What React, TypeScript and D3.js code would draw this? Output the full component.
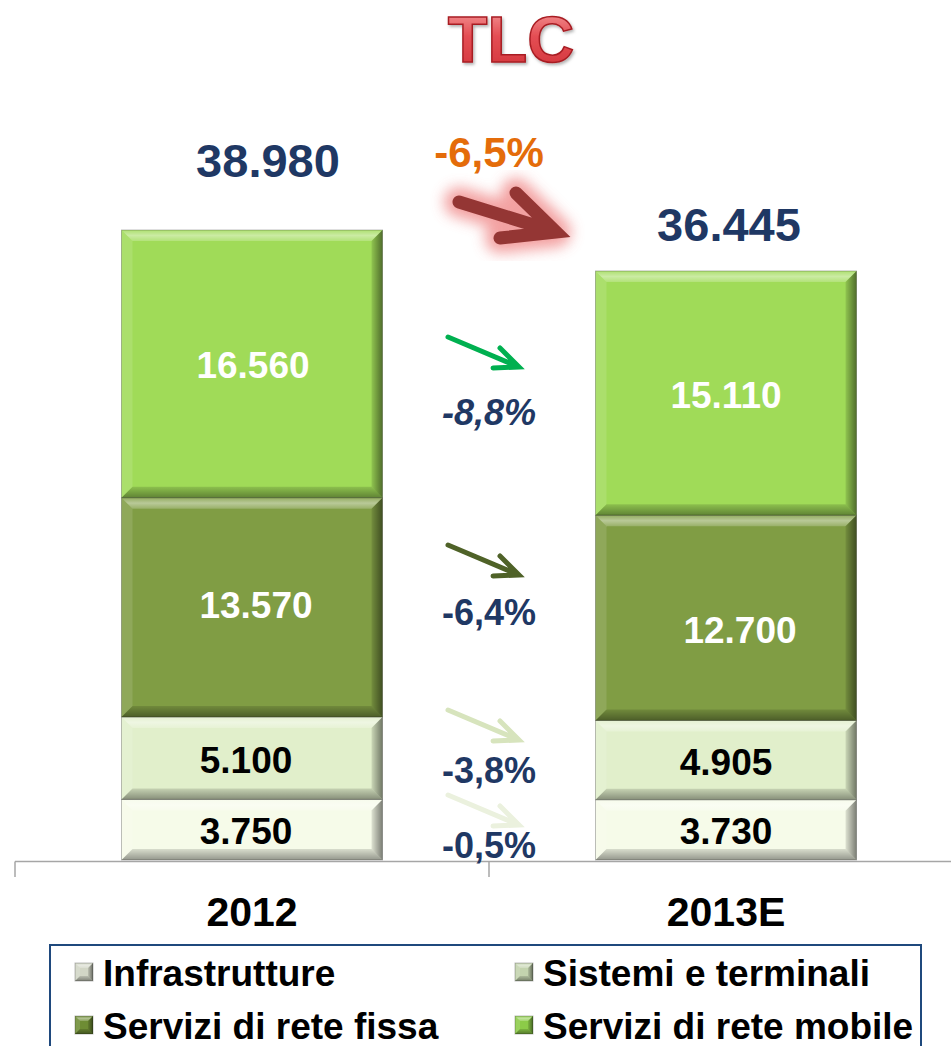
import React from "react";
import * as d3 from "d3";

// ---------- DATA ----------
const categories = ["2012", "2013E"];
const seriesKeys = ["infrastrutture", "sistemi", "fissa", "mobile"];
const seriesNames = ["Infrastrutture", "Sistemi e terminali", "Servizi di rete fissa", "Servizi di rete mobile"];
const infrastrutture = [3750, 3730];
const sistemi = [5100, 4905];
const fissa = [13570, 12700];
const mobile = [16560, 15110];
const totals = [38980, 36445];
const seriesChanges = ["-0,5%", "-3,8%", "-6,4%", "-8,8%"];
const totalChange = "-6,5%";
const title = "TLC";

// ---------- STYLE ----------
const W = 951;
const H = 1046;
const FONT = "'Liberation Sans', Arial, Helvetica, sans-serif";
const NAVY = "#1F3864";
const segColors = ["#F6FBE9", "#E1EFCB", "#809D44", "#A0DB58"];
const segText = ["#000", "#000", "#fff", "#fff"];
const legendColors = ["#D2D6C6", "#C3D3AE", "#6E8C34", "#8CCB48"];
const arrowColors = ["#EBF1DE", "#D7E4BD", "#4F6228", "#00B050"];
const arrowTailY = [795, 710, 545, 337];
const changeLabelY = [845, 770, 612, 412];
const changeItalic = [false, false, false, true];
const totalLabelDy = [70, 46];
const totalLabelDx = [16, 3];
// label nudges [series][category] as [dx, dy]
const labelNudge = [
  [[-6, 2], [0, 2]],
  [[-6, 2], [0, 2]],
  [[4, -2], [14, 13]],
  [[1, 2], [0, 2]],
];

const fmt = d3.formatLocale({ decimal: ",", thousands: ".", grouping: [3], currency: ["", ""] }).format(",d");

const rows = categories.map((c, i) => ({
  cat: c,
  infrastrutture: infrastrutture[i],
  sistemi: sistemi[i],
  fissa: fissa[i],
  mobile: mobile[i],
}));

const baseY = 860;
const y = d3.scaleLinear().domain([0, 40000]).range([baseY, baseY - (40000 * 630) / 38980]);
const x = d3.scaleBand().domain(categories).range([15, 963]).padding(0);
const barW = 261;
const stack = d3.stack<any>().keys(seriesKeys);
const stacked = stack(rows);

function Bevel({ x0, y0, x1, y1, color, b }: any) {
  const pts = (a: number[][]) => a.map((p) => p.join(",")).join(" ");
  return (
    <g>
      <rect x={x0} y={y0} width={x1 - x0} height={y1 - y0} fill={color} />
      <polygon points={pts([[x0, y0], [x1, y0], [x1 - b, y0 + b], [x0 + b, y0 + b]])} fill="url(#topBevel)" />
      <polygon points={pts([[x0, y0], [x0 + b, y0 + b], [x0 + b, y1 - b], [x0, y1]])} fill="#fff" opacity={0.12} />
      <polygon points={pts([[x1, y0], [x1 - b, y0 + b], [x1 - b, y1 - b], [x1, y1]])} fill="url(#rightBevel)" />
      <polygon points={pts([[x0, y1], [x1, y1], [x1 - b, y1 - b], [x0 + b, y1 - b]])} fill="url(#botBevel)" />
      <rect x={x0} y={y0} width={x1 - x0} height={y1 - y0} fill="none" stroke="#000" strokeOpacity={0.25} strokeWidth={1} />
    </g>
  );
}

function arrowPath(tx: number, ty: number, tip: number[], up: number[], lo: number[]) {
  const p = d3.path();
  p.moveTo(tx, ty);
  p.lineTo(tx + tip[0], ty + tip[1]);
  p.moveTo(tx + up[0], ty + up[1]);
  p.lineTo(tx + tip[0], ty + tip[1]);
  p.lineTo(tx + lo[0], ty + lo[1]);
  return p.toString();
}

export default function App() {
  const gapX = ((x(categories[0]) as number) + x.bandwidth() / 2 + barW / 2 + (x(categories[1]) as number) + x.bandwidth() / 2 - barW / 2) / 2;
  return (
    <svg width={W} height={H} style={{ position: "absolute", left: 0, top: 0, background: "#fff" }} fontFamily={FONT}>
      <defs>
        <linearGradient id="topBevel" x1="0" y1="0" x2="0" y2="1">
          <stop offset="0" stopColor="#fff" stopOpacity={0.15} />
          <stop offset="0.5" stopColor="#fff" stopOpacity={0.45} />
          <stop offset="1" stopColor="#fff" stopOpacity={0.2} />
        </linearGradient>
        <linearGradient id="rightBevel" x1="0" y1="0" x2="1" y2="0">
          <stop offset="0" stopColor="#000" stopOpacity={0.1} />
          <stop offset="1" stopColor="#000" stopOpacity={0.5} />
        </linearGradient>
        <linearGradient id="botBevel" x1="0" y1="0" x2="0" y2="1">
          <stop offset="0" stopColor="#000" stopOpacity={0.12} />
          <stop offset="1" stopColor="#000" stopOpacity={0.4} />
        </linearGradient>
        <linearGradient id="titleFill" x1="0" y1="0" x2="0" y2="1">
          <stop offset="0" stopColor="#F7A5A5" />
          <stop offset="0.45" stopColor="#E44E54" />
          <stop offset="1" stopColor="#D03238" />
        </linearGradient>
        <filter id="glow" x="-50%" y="-50%" width="200%" height="200%">
          <feGaussianBlur stdDeviation="7" />
        </filter>
        <filter id="shadow" x="-20%" y="-20%" width="140%" height="140%">
          <feDropShadow dx="1.5" dy="2" stdDeviation="1.5" floodColor="#000" floodOpacity="0.3" />
        </filter>
      </defs>

      {/* Title */}
      <text x={511} y={62} textAnchor="middle" fontSize={65} fontWeight="bold" fill="url(#titleFill)"
        stroke="#A81E24" strokeWidth={1.5} filter="url(#shadow)">{title}</text>

      {/* Bars */}
      {stacked.map((s, si) => (
        <g key={seriesKeys[si]}>
          {s.map((d, ci) => {
            const cx = (x(categories[ci]) as number) + x.bandwidth() / 2;
            const x0 = cx - barW / 2;
            const [ndx, ndy] = labelNudge[si][ci];
            return (
              <g key={ci}>
                <Bevel x0={x0} x1={x0 + barW} y0={y(d[1])} y1={y(d[0])} color={segColors[si]} b={11} />
                <text x={cx + ndx} y={(y(d[0]) + y(d[1])) / 2 + ndy} textAnchor="middle" dominantBaseline="central"
                  fontSize={37} fontWeight="bold" fill={segText[si]}>{fmt(d[1] - d[0])}</text>
              </g>
            );
          })}
        </g>
      ))}

      {/* Totals */}
      {categories.map((c, i) => (
        <text key={c} x={(x(c) as number) + x.bandwidth() / 2 + totalLabelDx[i]} y={y(totals[i]) - totalLabelDy[i]}
          textAnchor="middle" dominantBaseline="central" fontSize={47} fontWeight="bold" fill={NAVY}>{fmt(totals[i])}</text>
      ))}

      {/* Axis */}
      <line x1={x.range()[0]} x2={W} y1={baseY + 1.5} y2={baseY + 1.5} stroke="#A6A6A6" strokeWidth={1.5} />
      {[...categories.map((c) => x(c) as number), x.range()[1]].map((t, i) => (
        <line key={i} x1={t} x2={t} y1={baseY + 1.5} y2={baseY + 17} stroke="#A6A6A6" strokeWidth={1.5} />
      ))}
      {categories.map((c) => (
        <text key={c} x={(x(c) as number) + x.bandwidth() / 2} y={912} textAnchor="middle" dominantBaseline="central"
          fontSize={41} fontWeight="bold" fill="#000">{c}</text>
      ))}

      {/* Total change arrow */}
      <path d={arrowPath(459, 202, [97, 30], [57, -9], [41, 36])} stroke="#F08A8A" strokeWidth={30} fill="none"
        strokeLinecap="round" strokeLinejoin="round" filter="url(#glow)" opacity={0.8} />
      <path d={arrowPath(459, 202, [97, 30], [57, -9], [41, 36])} stroke="#943634" strokeWidth={13} fill="none"
        strokeLinecap="round" strokeLinejoin="miter" />
      <text x={gapX} y={152} textAnchor="middle" dominantBaseline="central" fontSize={42} fontWeight="bold" fill="#E46C0A">{totalChange}</text>

      {/* Series change arrows and labels */}
      {seriesKeys.map((k, i) => (
        <g key={k}>
          <path d={arrowPath(gapX - 41, arrowTailY[i], [71, 30], [52, 11], [45, 31])} stroke={arrowColors[i]} strokeWidth={5}
            fill="none" strokeLinecap="round" strokeLinejoin="miter" />
          <text x={gapX} y={changeLabelY[i]} textAnchor="middle" dominantBaseline="central" fontSize={36} fontWeight="bold"
            fontStyle={changeItalic[i] ? "italic" : "normal"} fill={NAVY}>{seriesChanges[i]}</text>
        </g>
      ))}

      {/* Legend */}
      <rect x={50} y={945} width={871} height={130} fill="#fff" stroke="#1F497D" strokeWidth={2} />
      {seriesNames.map((n, i) => {
        const col = i % 2;
        const row = Math.floor(i / 2);
        const mx = [75, 515][col];
        const my = [972, 1025][row];
        return (
          <g key={n}>
            <Bevel x0={mx} x1={mx + 18} y0={my - 9} y1={my + 9} color={legendColors[i]} b={5} />
            <text x={mx + 28} y={my + 1} dominantBaseline="central" fontSize={37} fontWeight="bold" fill="#000">{n}</text>
          </g>
        );
      })}
    </svg>
  );
}
